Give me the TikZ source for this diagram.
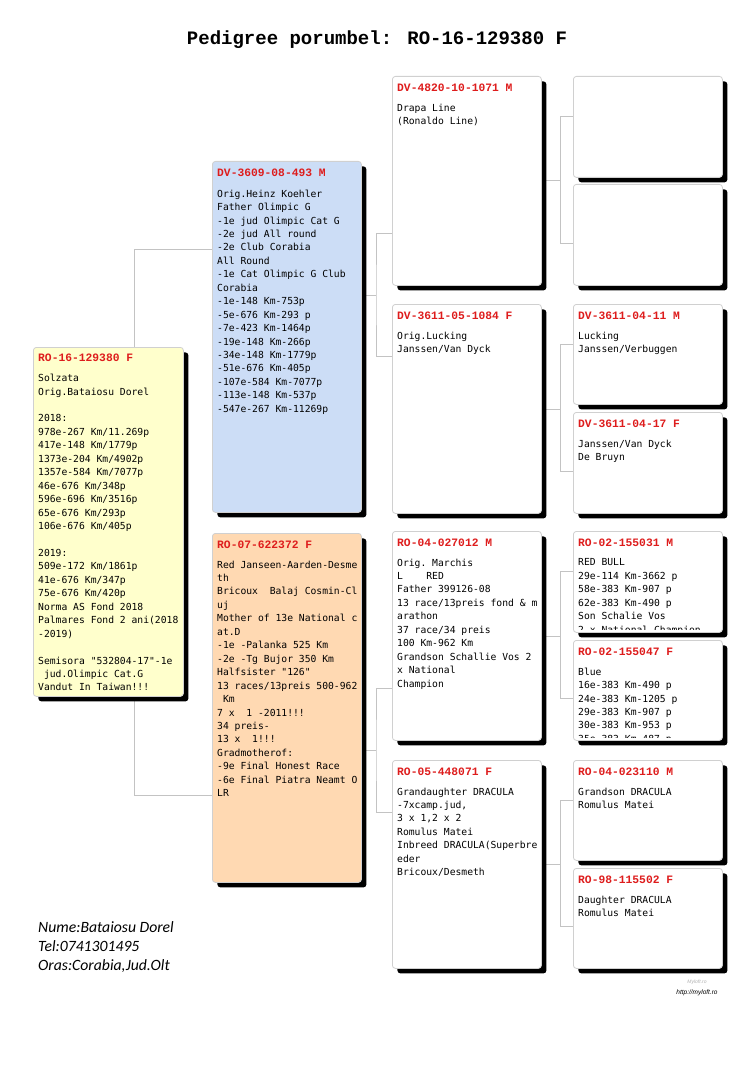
\documentclass[tikz,border=0pt]{standalone}
\usepackage{fontspec}
\setmonofont{DejaVu Sans Mono}
\newfontfamily\ringfont{Liberation Mono}
\newfontfamily\notefont{Carlito}
\newfontfamily\urlfont{Liberation Sans}
\usepackage{xcolor}
\usepackage{tikz}
\usetikzlibrary{positioning,calc,shadows,backgrounds}
\definecolor{cockyellow}{RGB}{255,255,204}
\definecolor{sireblue}{RGB}{204,221,246}
\definecolor{damorange}{RGB}{255,217,178}
\definecolor{ringred}{RGB}{222,28,28}
\definecolor{framegray}{RGB}{208,208,208}
\definecolor{linkgray}{RGB}{195,195,195}
\newcommand{\mspc}{\hphantom{0}}

\begin{document}
\begin{tikzpicture}[x=1pt, y=-1pt,
    pbox/.style={rectangle, draw=framegray, line width=0.8pt, rounded corners=3pt, anchor=north west, inner sep=0pt, fill=white, minimum width=149pt, drop shadow={shadow xshift=5pt, shadow yshift=-5pt, fill=black, opacity=1}},
    ring/.style={anchor=west, inner sep=0pt, font={\ringfont\bfseries\fontsize{11.3}{13}\selectfont}, text=ringred},
    info/.style={anchor=north west, inner sep=0pt, align=left, font={\ttfamily\fontsize{9.7}{13.45}\selectfont}, execute at begin node={\rule{0pt}{9pt}}},
    link/.style={draw=linkgray, line width=0.8pt},
    note/.style={anchor=base west, inner sep=0pt, align=left, font={\notefont\itshape\fontsize{15.7}{19}\selectfont}}
]
\useasboundingbox (0,0) rectangle (755,1067);

% ═══════════════════════════════════════════════════════════════
% Title
% ═══════════════════════════════════════════════════════════════
\node[font={\ringfont\bfseries\fontsize{19}{22}\selectfont}] (title) at (377,40) {Pedigree porumbel: RO-16-129380 F};

% ═══════════════════════════════════════════════════════════════
% Generation 1: the pigeon itself
% ═══════════════════════════════════════════════════════════════
\node[pbox, fill=cockyellow, minimum width=150pt, minimum height=349pt] (subj) at (33,347) {};
\node[ring] (subjring) at ($(subj.north west)+(5,11)$) {RO-16-129380 F};
\node[info] (subjinfo) at ($(subj.north west)+(5,27)$) {Solzata\\Orig.Bataiosu Dorel\\ \\2018:\\978e-267 Km/11.269p\\417e-148 Km/1779p\\1373e-204 Km/4902p\\1357e-584 Km/7077p\\46e-676 Km/348p\\596e-696 Km/3516p\\65e-676 Km/293p\\106e-676 Km/405p\\ \\2019:\\509e-172 Km/1861p\\41e-676 Km/347p\\75e-676 Km/420p\\Norma AS Fond 2018\\Palmares Fond 2 ani(2018\\-2019)\\ \\Semisora "532804-17"-1e\\\mspc jud.Olimpic Cat.G\\Vandut In Taiwan!!!};

% ═══════════════════════════════════════════════════════════════
% Generation 2: sire and dam
% ═══════════════════════════════════════════════════════════════
\node[pbox, fill=sireblue, minimum height=351pt] (sire) at (212,161) {};
\node[ring] (sirering) at ($(sire.north west)+(5,12)$) {DV-3609-08-493 M};
\node[info] (sireinfo) at ($(sire.north west)+(5,28.5)$) {Orig.Heinz Koehler\\Father Olimpic G\\-1e jud Olimpic Cat G\\-2e jud All round\\-2e Club Corabia\\All Round\\-1e Cat Olimpic G Club\\Corabia\\-1e-148 Km-753p\\-5e-676 Km-293 p\\-7e-423 Km-1464p\\-19e-148 Km-266p\\-34e-148 Km-1779p\\-51e-676 Km-405p\\-107e-584 Km-7077p\\-113e-148 Km-537p\\-547e-267 Km-11269p};

\node[pbox, fill=damorange, minimum height=349pt] (dam) at (212,533) {};
\node[ring] (damring) at ($(dam.north west)+(5,12)$) {RO-07-622372 F};
\node[info] (daminfo) at ($(dam.north west)+(5,27.5)$) {Red Janseen-Aarden-Desme\\th\\Bricoux\mspc\mspc Balaj Cosmin-Cl\\uj\\Mother of 13e National c\\at.D\\-1e -Palanka 525 Km\\-2e -Tg Bujor 350 Km\\Halfsister "126"\\13 races/13preis 500-962\\\mspc Km\\7 x\mspc\mspc 1 -2011!!!\\34 preis-\\13 x\mspc\mspc 1!!!\\Gradmotherof:\\-9e Final Honest Race\\-6e Final Piatra Neamt O\\LR};

% ═══════════════════════════════════════════════════════════════
% Generation 3: grandparents
% ═══════════════════════════════════════════════════════════════
\node[pbox, minimum height=209pt] (g3a) at (392,76) {};
\node[ring] (g3aring) at ($(g3a.north west)+(5,12)$) {DV-4820-10-1071 M};
\node[info] (g3ainfo) at ($(g3a.north west)+(5,27.5)$) {Drapa Line\\(Ronaldo Line)};

\node[pbox, minimum height=209pt] (g3b) at (392,304) {};
\node[ring] (g3bring) at ($(g3b.north west)+(5,12)$) {DV-3611-05-1084 F};
\node[info] (g3binfo) at ($(g3b.north west)+(5,27.5)$) {Orig.Lucking\\Janssen/Van Dyck};

\node[pbox, minimum height=209pt] (g3c) at (392,531) {};
\node[ring] (g3cring) at ($(g3c.north west)+(5,12)$) {RO-04-027012 M};
\node[info] (g3cinfo) at ($(g3c.north west)+(5,27.5)$) {Orig. Marchis\\L\mspc\mspc\mspc\mspc RED\\Father 399126-08\\13 race/13preis fond \& m\\arathon\\37 race/34 preis\\100 Km-962 Km\\Grandson Schallie Vos 2\\x National\\Champion};

\node[pbox, minimum height=208pt] (g3d) at (392,760) {};
\node[ring] (g3dring) at ($(g3d.north west)+(5,12)$) {RO-05-448071 F};
\node[info] (g3dinfo) at ($(g3d.north west)+(5,27.5)$) {Grandaughter DRACULA\\-7xcamp.jud,\\3 x 1,2 x 2\\Romulus Matei\\Inbreed DRACULA(Superbre\\eder\\Bricoux/Desmeth};

% ═══════════════════════════════════════════════════════════════
% Generation 4: great-grandparents
% ═══════════════════════════════════════════════════════════════
\node[pbox, minimum height=101pt] (g4a) at (573,76) {};
\node[pbox, minimum height=101pt] (g4b) at (573,184) {};

\node[pbox, minimum height=100pt] (g4c) at (573,304) {};
\node[ring] (g4cring) at ($(g4c.north west)+(5,12)$) {DV-3611-04-11 M};
\node[info] (g4cinfo) at ($(g4c.north west)+(5,27.5)$) {Lucking\\Janssen/Verbuggen};

\node[pbox, minimum height=101pt] (g4d) at (573,412) {};
\node[ring] (g4dring) at ($(g4d.north west)+(5,12)$) {DV-3611-04-17 F};
\node[info] (g4dinfo) at ($(g4d.north west)+(5,27.5)$) {Janssen/Van Dyck\\De Bruyn};

\node[pbox, minimum height=101pt] (g4e) at (573,531) {};
\node[ring] (g4ering) at ($(g4e.north west)+(5,12)$) {RO-02-155031 M};
\begin{scope}
\clip (g4e.north west) rectangle ($(g4e.south east)+(0,-3)$);
\node[info] (g4einfo) at ($(g4e.north west)+(5,27.5)$) {RED BULL\\29e-114 Km-3662 p\\58e-383 Km-907 p\\62e-383 Km-490 p\\Son Schalie Vos\\2 x National Champion};
\end{scope}

\node[pbox, minimum height=100pt] (g4f) at (573,640) {};
\node[ring] (g4fring) at ($(g4f.north west)+(5,12)$) {RO-02-155047 F};
\begin{scope}
\clip (g4f.north west) rectangle ($(g4f.south east)+(0,-3)$);
\node[info] (g4finfo) at ($(g4f.north west)+(5,27.5)$) {Blue\\16e-383 Km-490 p\\24e-383 Km-1205 p\\29e-383 Km-907 p\\30e-383 Km-953 p\\35e-383 Km-487 p};
\end{scope}

\node[pbox, minimum height=100pt] (g4g) at (573,760) {};
\node[ring] (g4gring) at ($(g4g.north west)+(5,12)$) {RO-04-023110 M};
\node[info] (g4ginfo) at ($(g4g.north west)+(5,27.5)$) {Grandson DRACULA\\Romulus Matei};

\node[pbox, minimum height=100pt] (g4h) at (573,868) {};
\node[ring] (g4hring) at ($(g4h.north west)+(5,12)$) {RO-98-115502 F};
\node[info] (g4hinfo) at ($(g4h.north west)+(5,27.5)$) {Daughter DRACULA\\Romulus Matei};

% ═══════════════════════════════════════════════════════════════
% Connectors (behind the boxes)
% ═══════════════════════════════════════════════════════════════
\begin{pgfonlayer}{background}
\fill[white] (0,0) rectangle (755,1067);
% pigeon -> sire, dam
\coordinate (jsubj) at ($(subj.north west)!0.67!(subj.north east)$);
\draw[link] (jsubj) |- ($(sire.north west)!0.25!(sire.south west)$);
\draw[link] (subj.south -| jsubj) |- ($(dam.north west)!0.75!(dam.south west)$);

% sire, dam -> grandparents
\foreach \up/\ka/\kb in {sire/g3a/g3b, dam/g3c/g3d}{
  \coordinate (a\up) at ($(\ka.north west)!0.75!(\ka.south west)$);
  \coordinate (b\up) at ($(\kb.north west)!0.25!(\kb.south west)$);
  \coordinate (j\up) at ($(a\up)!0.5!(b\up)+(-16,0)$);
  \draw[link] (\up.east |- j\up) -- (j\up);
  \draw[link] (a\up) -| (j\up) |- (b\up);
}

% grandparents -> great-grandparents
\foreach \up/\ka/\kb in {g3a/g4a/g4b, g3b/g4c/g4d, g3c/g4e/g4f, g3d/g4g/g4h}{
  \draw[link] (\up.east) -- ++(19,0) coordinate (j\up);
  \draw[link] ($(\ka.north west)!0.4!(\ka.south west)$) -| (j\up) |- ($(\kb.north west)!0.58!(\kb.south west)$);
}
\end{pgfonlayer}

% ═══════════════════════════════════════════════════════════════
% Owner and site
% ═══════════════════════════════════════════════════════════════
\node[note] (owner) at (38,970) {Nume:Bataiosu Dorel\\Tel:0741301495\\Oras:Corabia,Jud.Olt};
\node[font={\urlfont\itshape\fontsize{5}{6}\selectfont}, text=gray!60] (sign) at (697,982) {Myloft.ro};
\node[font={\urlfont\itshape\fontsize{6.5}{8}\selectfont}] (site) at (697,993) {http://myloft.ro};

\end{tikzpicture}
\end{document}
